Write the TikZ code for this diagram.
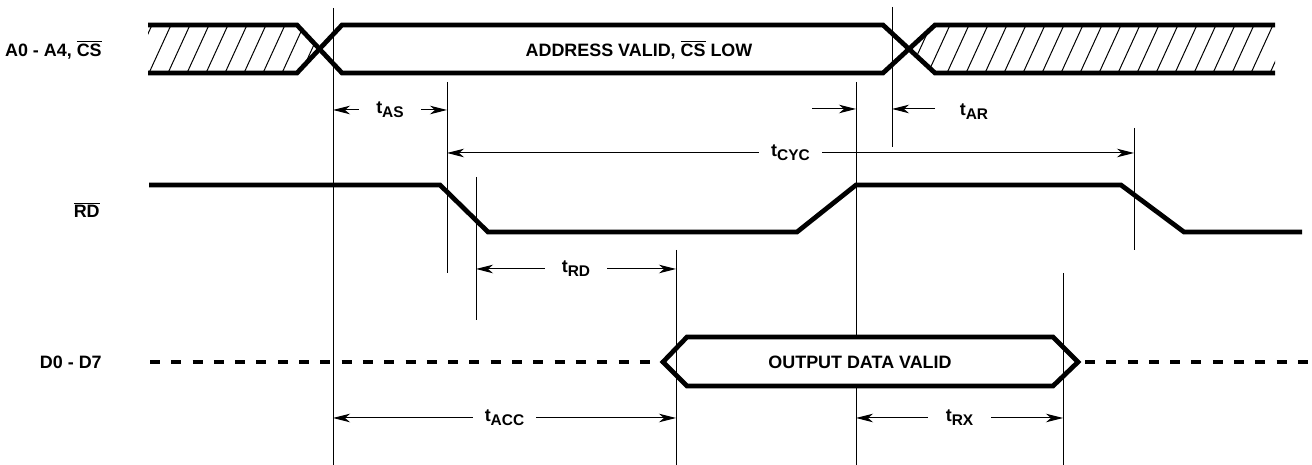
\documentclass[tikz,border=0pt]{standalone}
\usepackage{fontspec}
\setmainfont{Liberation Sans}
\usetikzlibrary{arrows.meta}
\tikzset{every picture/.style={/utils/exec={\bfseries\fontsize{10.2}{12}\selectfont}}}
\tikzset{
  bus/.style={line width=0.095cm, line join=miter},
  buslo/.style={line width=0.095cm, dash pattern=on 0.2cm off 0.226cm},
  marker/.style={line width=0.02cm},
  hatch/.style={line width=0.02cm},
  timing/.style={line width=0.02cm, {Stealth[length=0.34cm,width=0.17cm,inset=0.1cm]}-{Stealth[length=0.34cm,width=0.17cm,inset=0.1cm]}},
  onetiming/.style={line width=0.02cm, -{Stealth[length=0.34cm,width=0.17cm,inset=0.1cm]}},
  tlabel/.style={fill=white, inner sep=0pt, minimum width=1.25cm, minimum height=0.5cm},
  signame/.style={anchor=east}
}
\newcommand{\ovl}[1]{$\overline{\mbox{#1}}$}
\newcommand{\tsub}[1]{t\raisebox{-0.45ex}{\fontsize{8.8}{10}\selectfont #1}}

\begin{document}
\begin{tikzpicture}[x=0.02cm, y=-0.02cm]
  \useasboundingbox (0,0) rectangle (1312,465);

  % signal names
  \node [signame] (nA) at (108,50) {A0 - A4, \ovl{CS}};
  \node [signame] (nRD) at (106,210) {\ovl{RD}};
  \node [signame] (nD) at (108,362) {D0 - D7};

  % hatched (invalid) parts of the address bus
  \begin{scope}
    \clip (148,25) -- (297,25) -- (319.5,49) -- (297,73) -- (148,73) -- cycle;
    \foreach \i in {130,149,...,330} {
      \draw [hatch] (\i,73) -- ++(22,-48);
    }
  \end{scope}
  \begin{scope}
    \clip (1275,25) -- (935,25) -- (909,49) -- (935,73) -- (1275,73) -- cycle;
    \foreach \i in {890,909,...,1290} {
      \draw [hatch] (\i,73) -- ++(22,-48);
    }
  \end{scope}

  % address bus
  \draw [bus] (148,25) -- (297,25) -- (342,73) -- (883,73) -- (935,25) -- (1275,25);
  \draw [bus] (148,73) -- (297,73) -- (342,25) -- (883,25) -- (935,73) -- (1275,73);
  \node (addr) at (639,50) {ADDRESS VALID, \ovl{CS} LOW};

  % RD
  \draw [bus] (149,185) -- (440,185) -- (488,232) -- (797,232) -- (856,185)
    -- (1121,185) -- (1184,232) -- (1302,232);

  % data bus
  \draw [buslo] (150,362) -- (663,362);
  \draw [bus] (663,362) -- (687,337) -- (1053,337) -- (1078,362) -- (1053,386)
    -- (687,386) -- cycle;
  \draw [buslo] (1085,362) -- (1308,362);
  \node (data) at (860,362) {OUTPUT DATA VALID};

  % marker lines
  \coordinate (v1t) at (333,8);    \coordinate (v1b) at (333,465);
  \coordinate (v2t) at (447,82);   \coordinate (v2b) at (447,273);
  \coordinate (v3t) at (476,177);  \coordinate (v3b) at (476,320);
  \coordinate (v4t) at (856,82);   \coordinate (v4m) at (856,337);
  \coordinate (v4n) at (856,386);  \coordinate (v4b) at (856,465);
  \coordinate (v5t) at (892,7);    \coordinate (v5b) at (892,147);
  \coordinate (v6t) at (1134,128); \coordinate (v6b) at (1134,250);
  \coordinate (v7t) at (676,250);  \coordinate (v7b) at (676,465);
  \coordinate (v8t) at (1063,273); \coordinate (v8b) at (1063,465);
  \foreach \a/\b in {v1t/v1b,v2t/v2b,v3t/v3b,v4t/v4m,v4n/v4b,v5t/v5b,v6t/v6b,v7t/v7b,v8t/v8b} {
    \draw [marker] (\a) -- (\b);
  }

  % timing
  \coordinate (rAS) at (0,110);
  \coordinate (rCYC) at (0,153);
  \coordinate (rRD) at (0,269);
  \coordinate (rACC) at (0,418);
  \draw [timing] (v1t |- rAS) -- node [tlabel] (tAS) {\tsub{AS}} (v2t |- rAS);
  \draw [timing] (v2t |- rCYC) -- node [tlabel] (tCYC) {\tsub{CYC}} (v6t |- rCYC);
  \draw [timing] (v3t |- rRD) -- node [tlabel] (tRD) {\tsub{RD}} (v7t |- rRD);
  \draw [timing] (v1t |- rACC) -- node [tlabel] (tACC) {\tsub{ACC}} (v7t |- rACC);
  \draw [timing] (v4t |- rACC) -- node [tlabel] (tRX) {\tsub{RX}} (v8t |- rACC);

  \coordinate (ar1) at (812,109);
  \coordinate (ar2) at (935,109);
  \draw [onetiming] (ar1) -- (v4t |- ar1);
  \draw [onetiming] (ar2) -- (v5t |- ar2);
  \node (tAR) at (974,112) {\tsub{AR}};
\end{tikzpicture}
\end{document}
